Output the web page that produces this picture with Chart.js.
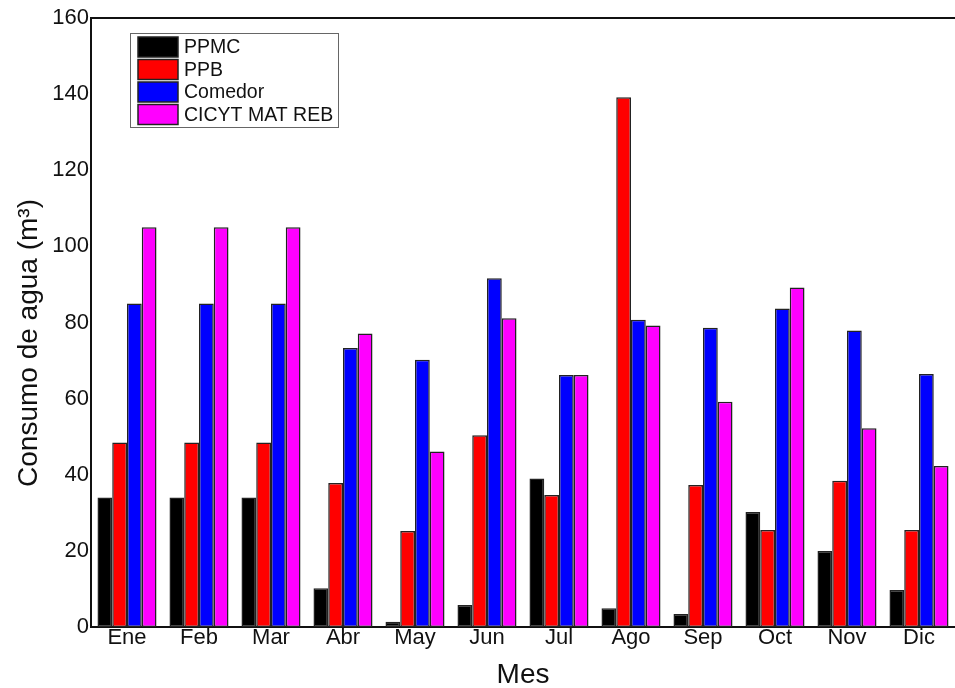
<!DOCTYPE html>
<html>
<head>
<meta charset="utf-8">
<script src="https://cdn.jsdelivr.net/npm/chart.js@4"></script>
<style>
  html, body { margin: 0; padding: 0; background: #fff; }
  #wrap { width: 955px; height: 688px; }
</style>
</head>
<body>
<div id="wrap"><canvas id="chart"></canvas></div>
<script>
// --- Data ---
const months = ['Ene', 'Feb', 'Mar', 'Abr', 'May', 'Jun', 'Jul', 'Ago', 'Sep', 'Oct', 'Nov', 'Dic'];
const ppmc    = [34, 34, 34, 10.2, 1.4, 5.8, 39, 4.9, 3.4, 30.2, 20, 9.7];
const ppb     = [48.5, 48.5, 48.5, 37.8, 25.2, 50.4, 34.7, 139.2, 37.3, 25.5, 38.4, 25.5];
const comedor = [85, 85, 85, 73.3, 70.2, 91.6, 66.2, 80.7, 78.6, 83.7, 77.9, 66.5];
const cicyt   = [105, 105, 105, 77.1, 46.1, 81.1, 66.2, 79.2, 59.2, 89.2, 52.2, 42.3];
const yTicks  = [0, 20, 40, 60, 80, 100, 120, 140, 160];
const yTitle  = 'Consumo de agua (m³)';

const FONT = 'Liberation Sans, Arial, sans-serif';

// legend drawn inside the plot, boxed like the original, plus top frame and y title
const boxLegend = {
    id: 'boxLegend',
    afterDraw(chart) {
        const ctx = chart.ctx;
        ctx.save();
        ctx.strokeStyle = '#666';
        ctx.lineWidth = 1;
        ctx.strokeRect(130.5, 33.5, 208, 94);
        chart.data.datasets.forEach((ds, i) => {
            const y = 37 + i * 22.5;
            ctx.fillStyle = ds.backgroundColor;
            ctx.fillRect(138, y, 40, 20);
            ctx.strokeStyle = '#222';
            ctx.lineWidth = 1.5;
            ctx.strokeRect(138, y, 40, 20);
            ctx.fillStyle = '#111';
            ctx.font = '19.5px ' + FONT;
            ctx.textBaseline = 'middle';
            ctx.fillText(ds.label, 184, y + 11);
        });
        // top frame line
        const a = chart.chartArea;
        ctx.strokeStyle = '#111';
        ctx.lineWidth = 2;
        ctx.beginPath();
        ctx.moveTo(a.left, a.top);
        ctx.lineTo(a.right, a.top);
        ctx.stroke();
        // y axis title
        ctx.translate(29, 343);
        ctx.rotate(-Math.PI / 2);
        ctx.font = '28px ' + FONT;
        ctx.textAlign = 'center';
        ctx.textBaseline = 'middle';
        ctx.fillStyle = '#111';
        ctx.fillText(yTitle, 0, 0);
        ctx.restore();
    }
};

function bars(label, data, color) {
    return {
        label: label,
        data: data,
        backgroundColor: color,
        borderColor: '#222',
        borderWidth: 1.5,
        borderSkipped: false
    };
}

new Chart(document.getElementById('chart'), {
    type: 'bar',
    data: {
        labels: months,
        datasets: [
            bars('PPMC', ppmc, '#000000'),
            bars('PPB', ppb, '#ff0000'),
            bars('Comedor', comedor, '#0000ff'),
            bars('CICYT MAT REB', cicyt, '#ff00ff')
        ]
    },
    options: {
        responsive: true,
        maintainAspectRatio: false,
        animation: false,
        layout: { padding: { top: 18, right: 0, left: 0, bottom: 0 } },
        plugins: { legend: { display: false }, tooltip: { enabled: false } },
        datasets: { bar: { categoryPercentage: 0.82, barPercentage: 1.0 } },
        scales: {
            x: {
                grid: { display: false, drawTicks: false },
                border: { display: true, color: '#111', width: 2 },
                ticks: { color: '#111', padding: 0, font: { family: FONT, size: 22, lineHeight: 1 } },
                title: { display: true, text: 'Mes', color: '#111', padding: 0,
                         font: { family: FONT, size: 28, lineHeight: 0.9 } },
                afterFit(scale) { scale.height = 61; }
            },
            y: {
                min: 0,
                max: 160,
                afterBuildTicks(scale) { scale.ticks = yTicks.map(v => ({ value: v })); },
                grid: { display: false, drawTicks: false },
                border: { display: true, color: '#111', width: 2 },
                ticks: { color: '#111', padding: 2, font: { family: FONT, size: 22 } },
                afterFit(scale) { scale.width = 91; }
            }
        }
    },
    plugins: [boxLegend]
});
</script>
</body>
</html>
